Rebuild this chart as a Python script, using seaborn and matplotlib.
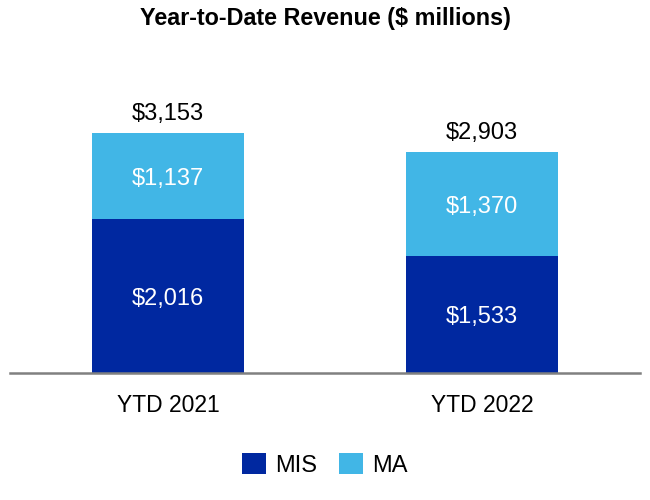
import pandas as pd
import matplotlib
matplotlib.use("Agg")
import matplotlib.pyplot as plt
import seaborn as sns

# ---------------------------------------------------------
# Data
# ---------------------------------------------------------
periods = ["YTD 2021", "YTD 2022"]
mis = [2016, 1533]
ma = [1137, 1370]

df = pd.DataFrame({"period": periods, "MIS": mis, "MA": ma})
df["total"] = df["MIS"] + df["MA"]

dark_blue = "#0028A0"
light_blue = "#41B6E6"

sns.set_theme(style="white")
plt.rcParams["font.family"] = ["Liberation Sans", "DejaVu Sans"]
plt.rcParams["text.color"] = "black"
plt.rcParams["xtick.color"] = "black"

fig = plt.figure(figsize=(6.5, 5), dpi=100)
ax = fig.add_axes([10 / 650, 127 / 500, 630 / 650, 313 / 500])

# total bar (light) first, MIS on top of it
sns.barplot(data=df, x="period", y="total", color=light_blue, width=0.484,
            saturation=1, linewidth=0, ax=ax, label="MA")
sns.barplot(data=df, x="period", y="MIS", color=dark_blue, width=0.484,
            saturation=1, linewidth=0, ax=ax, label="MIS")
handles, labels = ax.get_legend_handles_labels()
if ax.legend_ is not None:
    ax.legend_.remove()

for i, row in df.iterrows():
    ax.text(i, row["MIS"] / 2, f"${row['MIS']:,}", ha="center",
            va="center_baseline", color="white", fontsize=17)
    ax.text(i, row["MIS"] + row["MA"] / 2, f"${row['MA']:,}", ha="center",
            va="center_baseline", color="white", fontsize=17)
    ax.text(i, row["total"] + 110, f"${row['total']:,}", ha="center",
            va="bottom", color="black", fontsize=17)

ax.set_xlim(-0.503, 1.503)
ax.set_ylim(0, 4110)
ax.set_xlabel("")
ax.set_ylabel("")
ax.set_yticks([])
ax.tick_params(axis="x", labelsize=16.5, length=0, pad=15)
for s in ["top", "right", "left"]:
    ax.spines[s].set_visible(False)
ax.spines["bottom"].set_color("#808080")
ax.spines["bottom"].set_linewidth(1.8)

fig.text(0.5, 1 - 19 / 500, "Year-to-Date Revenue ($ millions)", ha="center",
         va="center", fontsize=16.8, fontweight="bold", color="black")

order = [labels.index("MIS"), labels.index("MA")]
fig.legend([handles[k] for k in order], [labels[k] for k in order],
           loc="center", bbox_to_anchor=(0.5, 1 - 465 / 500), ncol=2,
           frameon=False, fontsize=17, handlelength=1.0, handleheight=1.0,
           handletextpad=0.4, columnspacing=0.95)

fig.savefig("out.png", dpi=100)
